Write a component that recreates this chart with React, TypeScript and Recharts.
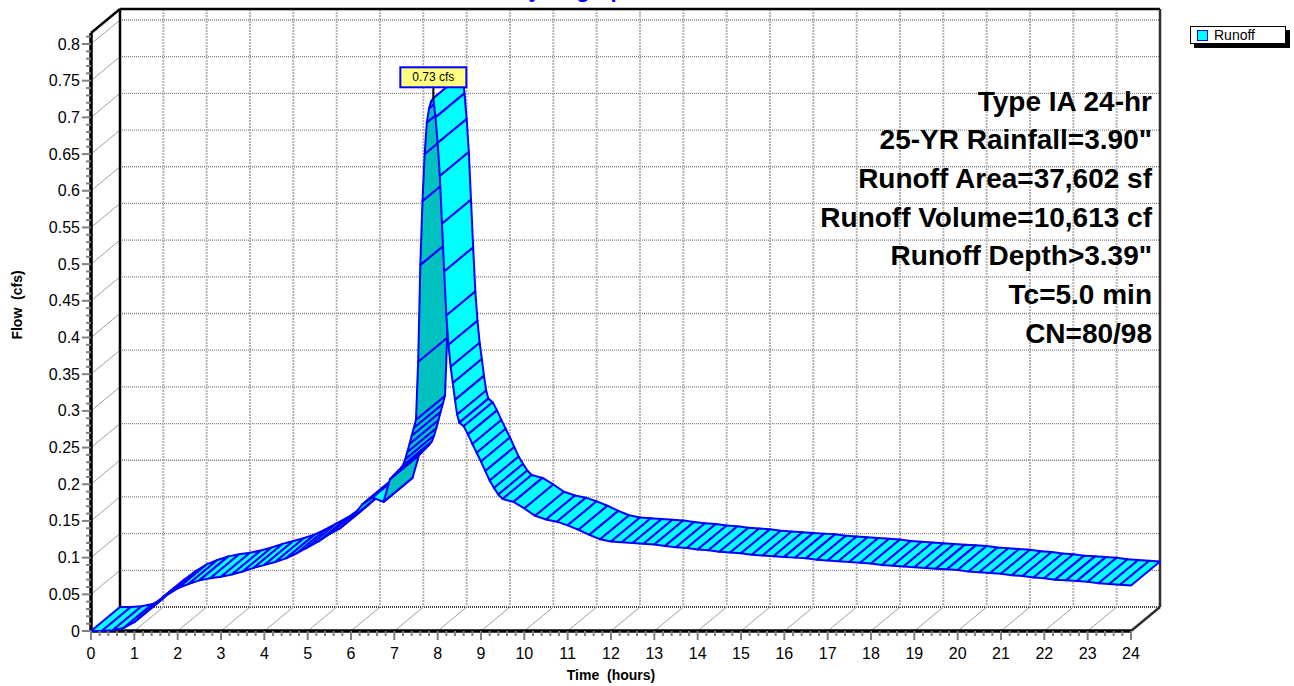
import { LineChart, Line, XAxis, YAxis, CartesianGrid, ReferenceLine } from 'recharts';

// runoff hydrograph (hours / cfs)
const hours = [
  0, 0.25, 0.5, 0.75, 1, 1.25, 1.5, 1.75, 2, 2.25,
  2.5, 2.75, 3, 3.25, 3.5, 3.75, 4, 4.25, 4.5, 4.75,
  5, 5.25, 5.5, 5.75, 6, 6.25, 6.5, 6.75, 6.9, 6.95,
  7, 7.05, 7.1, 7.15, 7.2, 7.25, 7.3, 7.35, 7.4, 7.45,
  7.5, 7.55, 7.6, 7.65, 7.7, 7.75, 7.8, 7.85, 7.9, 7.95,
  8, 8.05, 8.1, 8.15, 8.2, 8.25, 8.3, 8.35, 8.4, 8.45,
  8.5, 8.6, 8.7, 8.8, 8.9, 9, 9.1, 9.2, 9.3, 9.4,
  9.5, 9.75, 10, 10.25, 10.5, 10.75, 11, 11.25, 11.5, 11.75,
  12, 12.25, 12.5, 12.75, 13, 13.25, 13.5, 13.75, 14, 14.25,
  14.5, 14.75, 15, 15.25, 15.5, 15.75, 16, 16.25, 16.5, 16.75,
  17, 17.25, 17.5, 17.75, 18, 18.25, 18.5, 18.75, 19, 19.25,
  19.5, 19.75, 20, 20.25, 20.5, 20.75, 21, 21.25, 21.5, 21.75,
  22, 22.25, 22.5, 22.75, 23, 23.25, 23.5, 23.75, 24,
];
const flows = [
  0, 0, 0.001, 0.004, 0.012, 0.026, 0.038, 0.049, 0.058, 0.064,
  0.069, 0.072, 0.074, 0.077, 0.081, 0.086, 0.09, 0.094, 0.099, 0.106,
  0.114, 0.122, 0.132, 0.14, 0.153, 0.172, 0.182, 0.176, 0.207, 0.21,
  0.213, 0.216, 0.219, 0.222, 0.226, 0.234, 0.244, 0.255, 0.266, 0.277,
  0.288, 0.367, 0.499, 0.586, 0.65, 0.693, 0.712, 0.722, 0.726, 0.7,
  0.665, 0.62, 0.555, 0.49, 0.43, 0.39, 0.36, 0.338, 0.315, 0.295,
  0.284, 0.279, 0.268, 0.255, 0.243, 0.231, 0.218, 0.205, 0.195, 0.186,
  0.18, 0.176, 0.167, 0.157, 0.152, 0.149, 0.144, 0.138, 0.131, 0.125,
  0.122, 0.121, 0.12, 0.119, 0.118, 0.116, 0.114, 0.113, 0.111, 0.11,
  0.108, 0.107, 0.106, 0.104, 0.103, 0.102, 0.101, 0.1, 0.099, 0.097,
  0.096, 0.095, 0.094, 0.093, 0.092, 0.09, 0.089, 0.088, 0.087, 0.086,
  0.085, 0.084, 0.083, 0.081, 0.08, 0.079, 0.078, 0.076, 0.075, 0.073,
  0.072, 0.07, 0.069, 0.068, 0.067, 0.065, 0.064, 0.063, 0.062,
];

const xLabels = ['0', '1', '2', '3', '4', '5', '6', '7', '8', '9', '10', '11', '12', '13', '14', '15',
  '16', '17', '18', '19', '20', '21', '22', '23', '24'];
const yLabels = ['0', '0.05', '0.1', '0.15', '0.2', '0.25', '0.3', '0.35', '0.4', '0.45', '0.5',
  '0.55', '0.6', '0.65', '0.7', '0.75', '0.8'];
const notes = [
  'Type IA 24-hr',
  '25-YR Rainfall=3.90"',
  'Runoff Area=37,602 sf',
  'Runoff Volume=10,613 cf',
  'Runoff Depth>3.39"',
  'Tc=5.0 min',
  'CN=80/98',
];

const W = 1294;
const H = 686;
const Y_TOP = 0.815;
const DX = 29;   // depth of the 3d box
const DY = -24;
const BLUE = '#0000ff';
const CYAN = '#00ffff';
const TEAL = '#00c0c0';
const FONT = '"Liberation Sans", Arial, sans-serif';

const data = hours.map((t, i) => ({ t, q: flows[i] }));
const xMajor = xLabels.map(Number);
const yMajor = yLabels.map(Number);
const xMinor = Array.from({ length: 121 }, (_, i) => +(i * 0.2).toFixed(1));
const yMinor = Array.from({ length: 82 }, (_, i) => +(i * 0.01).toFixed(2));

const XTick = ({ x, y, payload }: any) => {
  const v = payload.value;
  const major = Math.abs(v - Math.round(v)) < 1e-6;
  return (
    <g>
      <line x1={x} x2={x} y1={y} y2={y + (major ? 9 : 5)} stroke="#808080" strokeWidth={2} />
      {major && (
        <text x={x} y={y + 22} textAnchor="middle" dominantBaseline="central"
          fontSize={16} fontFamily={FONT} fill="#000">{xLabels[Math.round(v)]}</text>
      )}
    </g>
  );
};

const YTick = ({ x, y, payload }: any) => {
  const v = payload.value;
  const k = Math.round(v * 20);
  const major = Math.abs(v * 20 - k) < 1e-6;
  return (
    <g>
      <line x1={x - (major ? 9 : 5)} x2={x} y1={y} y2={y} stroke="#808080" strokeWidth={2} />
      {major && (
        <text x={x - 11} y={y} textAnchor="end" dominantBaseline="central"
          fontSize={16} fontFamily={FONT} fill="#000">{yLabels[k]}</text>
      )}
    </g>
  );
};

// back wall gridlines + diagonals on the left wall / floor
const HGrid = (p: any) => (
  <g key={p.key}>
    <line x1={p.x1} y1={p.y1} x2={p.x1 + DX} y2={p.y1 + DY} stroke="#a0a0a0" strokeWidth={1} />
    <line x1={p.x1 + DX} y1={p.y1 + DY} x2={p.x2 + DX} y2={p.y2 + DY}
      stroke={p.index === 0 ? '#404040' : '#808080'} strokeWidth={p.index === 0 ? 2 : 1.3} strokeDasharray="1 1" />
  </g>
);
const VGrid = (p: any) => (
  <g key={p.key}>
    <line x1={p.x2} y1={p.y2} x2={p.x2 + DX} y2={p.y2 + DY} stroke="#a0a0a0" strokeWidth={1} />
    <line x1={p.x1 + DX} y1={p.y1 + DY} x2={p.x2 + DX} y2={p.y2 + DY}
      stroke="#b4b4b4" strokeWidth={2} strokeDasharray="2 1" />
  </g>
);

const TopFrame = (p: any) => {
  const xl = Math.min(p.x1, p.x2);
  const xr = Math.max(p.x1, p.x2);
  return (
    <g>
      <line x1={xl} y1={p.y1} x2={xl + DX} y2={p.y1 + DY} stroke="#000" strokeWidth={2.5} />
      <line x1={xl + DX} y1={p.y1 + DY} x2={xr + DX} y2={p.y1 + DY} stroke="#000" strokeWidth={2.5} />
    </g>
  );
};
const LeftFrame = (p: any) => (
  <line x1={p.x1 + DX} y1={p.y1 + DY} x2={p.x2 + DX} y2={p.y2 + DY} stroke="#000" strokeWidth={2.5} />
);
const RightFrame = (p: any) => {
  const yb = Math.max(p.y1, p.y2);
  return (
    <g>
      <line x1={p.x1 + DX} y1={p.y1 + DY} x2={p.x2 + DX} y2={p.y2 + DY} stroke="#303030" strokeWidth={2.5} />
      <line x1={p.x1} y1={yb} x2={p.x1 + DX} y2={yb + DY} stroke="#303030" strokeWidth={2.5} />
    </g>
  );
};

// the ribbon is built from the line's own pixel points, collected as the dots render
const pts: { x: number; y: number }[] = [];
const peakIdx = flows.indexOf(Math.max(...flows));

const Ribbon = (p: any) => {
  const { cx, cy, index } = p;
  pts[index] = { x: cx, y: cy };
  if (index !== data.length - 1) return <g key={`d${index}`} />;
  const quads = [];
  for (let i = 0; i < data.length - 1; i++) {
    const a = pts[i];
    const b = pts[i + 1];
    const under = (b.x - a.x) * DY - (b.y - a.y) * DX > 0;
    quads.push(
      <path key={i}
        d={`M${a.x},${a.y}L${b.x},${b.y}L${b.x + DX},${b.y + DY}L${a.x + DX},${a.y + DY}Z`}
        fill={under ? TEAL : CYAN} stroke={BLUE} strokeWidth={2} strokeLinejoin="round" />
    );
  }
  const pk = pts[peakIdx];
  return (
    <g key="ribbon">
      {quads}
      <line x1={pk.x} y1={pk.y - 11} x2={pk.x} y2={pk.y + 1} stroke="#000" strokeWidth={2} />
      <rect x={pk.x - 33} y={pk.y - 31} width={66} height={20} fill="#ffff80" stroke={BLUE} strokeWidth={2} />
      <text x={pk.x} y={pk.y - 21} textAnchor="middle" dominantBaseline="central"
        fontSize={12} fontFamily={FONT} fill="#000">{`${flows[peakIdx].toFixed(2)} cfs`}</text>
    </g>
  );
};

export default function App() {
  return (
    <div style={{
      position: 'absolute', left: 0, top: 0, width: W, height: H,
      overflow: 'hidden', background: '#fff', fontFamily: FONT,
    }}>
      <LineChart width={W} height={H} data={data} margin={{ top: 33, right: 163, bottom: 25, left: 31 }}>
        <CartesianGrid horizontalValues={yMajor} verticalValues={xMajor}
          horizontal={HGrid} vertical={VGrid} />
        <XAxis type="number" dataKey="t" domain={[0, 24]} ticks={xMinor} interval={0}
          height={30} tickSize={0} tickMargin={0} tickLine={false} tick={<XTick />}
          axisLine={{ stroke: '#000', strokeWidth: 3.5 }} />
        <YAxis type="number" domain={[0, Y_TOP]} ticks={yMinor} interval={0}
          width={60} tickSize={0} tickMargin={0} tickLine={false} tick={<YTick />}
          axisLine={{ stroke: '#000', strokeWidth: 3.5 }} />
        <ReferenceLine y={Y_TOP} shape={TopFrame} />
        <ReferenceLine x={0} shape={LeftFrame} />
        <ReferenceLine x={24} shape={RightFrame} />
        <Line dataKey="q" stroke="none" dot={Ribbon} activeDot={false} isAnimationActive={false} />
      </LineChart>

      <div style={{
        position: 'absolute', left: 575, top: -20.6, transform: 'translateX(-50%)',
        fontSize: 22, lineHeight: '22px', fontWeight: 'bold', color: BLUE, whiteSpace: 'pre',
      }}>Hydrograph</div>

      <div style={{
        position: 'absolute', right: W - 1152, top: 82.6, textAlign: 'right',
        fontSize: 28, lineHeight: '38.7px', fontWeight: 'bold', color: '#000', whiteSpace: 'pre',
      }}>{notes.join('\n')}</div>

      <div style={{
        position: 'absolute', left: 17, top: 305, transform: 'translate(-50%, -50%) rotate(-90deg)',
        fontSize: 14, fontWeight: 'bold', whiteSpace: 'pre',
      }}>{'Flow  (cfs)'}</div>
      <div style={{
        position: 'absolute', left: 611, top: 675, transform: 'translate(-50%, -50%)',
        fontSize: 14, fontWeight: 'bold', whiteSpace: 'pre',
      }}>{'Time  (hours)'}</div>

      <div style={{
        position: 'absolute', left: 1190, top: 26, width: 96, height: 18, boxSizing: 'border-box',
        border: '1px solid #000', boxShadow: '4px 4px 0 #000', background: '#fff',
      }}>
        <div style={{
          position: 'absolute', left: 6, top: 3, width: 11, height: 11, boxSizing: 'border-box',
          background: CYAN, border: `1.5px solid ${BLUE}`,
        }} />
        <div style={{ position: 'absolute', left: 23, top: 0, fontSize: 14, lineHeight: '16px' }}>Runoff</div>
      </div>
    </div>
  );
}
